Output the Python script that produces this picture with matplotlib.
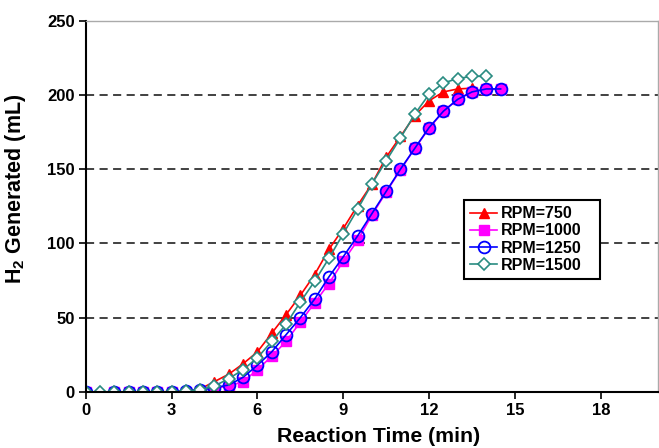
"""
H2 generation vs reaction time at different stirring speeds
"""
import matplotlib
matplotlib.use('Agg')
import matplotlib.pyplot as plt

# pylint: disable=invalid-name

plt.rcParams['font.family'] = ['Liberation Sans', 'DejaVu Sans']
plt.rcParams['font.weight'] = 'bold'
plt.rcParams['mathtext.fontset'] = 'custom'
plt.rcParams['mathtext.bf'] = 'Liberation Sans:bold'
plt.rcParams['mathtext.rm'] = 'Liberation Sans:bold'

time_750 = [0, 1, 1.5, 2, 2.5, 3, 3.5, 4, 4.5, 5, 5.5, 6, 6.5, 7, 7.5,
            8, 8.5, 9, 9.5, 10, 10.5, 11, 11.5, 12, 12.5, 13, 13.5]
h2_750 = [0, 0, 0, 0, 0, 0.3, 0.8, 2, 7, 12, 19, 27, 39.5, 52, 65,
          79, 96, 110, 125.5, 140, 158, 172, 186, 196, 202, 204, 204.5]

time_1000 = [0, 1, 1.5, 2, 2.5, 3, 3.5, 4, 4.5, 5, 5.5, 6, 6.5, 7, 7.5,
             8, 8.5, 9, 9.5, 10, 10.5, 11, 11.5, 12, 12.5, 13, 13.5, 14, 14.5]
h2_1000 = [0, 0, 0, 0, 0, 0, 0.3, 1, 2.5, 4, 7, 15, 24, 34, 47,
           60, 73, 88, 102, 119, 134.5, 149.5, 164, 177.5, 189, 197, 202, 204, 204]

time_1250 = time_1000
h2_1250 = [0, 0, 0, 0, 0, 0, 0.5, 1.5, 3, 4.7, 9.9, 18, 27, 38.5, 50,
           62.5, 77.5, 91, 105, 120, 135, 150, 164, 178, 189, 197, 202, 204, 204]

time_1500 = [0, 0.5, 1, 1.5, 2, 2.5, 3, 3.5, 4, 4.5, 5, 5.5, 6, 6.5, 7,
             7.5, 8, 8.5, 9, 9.5, 10, 10.5, 11, 11.5, 12, 12.5, 13, 13.5, 14]
h2_1500 = [0, 0, 0, 0, 0, 0, 0, 0.5, 1.5, 4, 9, 15, 23, 34, 45.5,
           60.5, 74.5, 90, 106.5, 123, 140, 155.6, 171, 187, 200.4, 208, 211, 212.5, 212.5]

labels = ['RPM=750', 'RPM=1000', 'RPM=1250', 'RPM=1500']

fig = plt.figure(figsize=(6.59, 4.48), dpi=100)
ax = fig.add_axes([0.130, 0.125, 0.8685, 0.829])

ax.plot(time_750, h2_750, color='#ff0000', marker='^', ms=7.5, lw=1.2,
        label=labels[0])
ax.plot(time_1000, h2_1000, color='#ff00ff', marker='s', ms=7, lw=1.2,
        label=labels[1])
ax.plot(time_1250, h2_1250, color='#0000ff', marker='o', ms=8.5, lw=1.2,
        mfc='none', mew=1.3, label=labels[2])
ax.plot(time_1500, h2_1500, color='#2a8c82', marker='D', ms=6, lw=1.2,
        mfc='white', mew=1.2, label=labels[3])

# dashed horizontal grid
for yy in [50, 100, 150, 200]:
    ax.axhline(yy, color='#333333', lw=1.3, ls=(0, (4.5, 3)), zorder=0)

ax.set_xlim(0, 20)
ax.set_ylim(0, 250)
ax.set_xticks([0, 3, 6, 9, 12, 15, 18])
ax.set_yticks([0, 50, 100, 150, 200, 250])
ax.tick_params(direction='out', length=5, width=1.2, labelsize=12, pad=3)
for lab in ax.get_xticklabels() + ax.get_yticklabels():
    lab.set_fontweight('bold')

for side in ['left', 'bottom']:
    ax.spines[side].set_linewidth(1.5)
    ax.spines[side].set_color('black')
for side in ['top', 'right']:
    ax.spines[side].set_linewidth(1.0)
    ax.spines[side].set_color('#aaaaaa')

ax.set_xlabel('Reaction Time (min)', fontsize=15.3, fontweight='bold')
ax.xaxis.set_label_coords(0.512, -0.094)
ax.set_ylabel(r'H$_\mathbf{2}$ Generated (mL)', fontsize=15.5,
              fontweight='bold')
ax.yaxis.set_label_coords(-0.101, 0.547)

leg = ax.legend(loc='upper left', bbox_to_anchor=(0.661, 0.517, 0.2376, 0),
                mode='expand', borderaxespad=0, fancybox=False,
                edgecolor='black', framealpha=1, fontsize=11.5,
                handlelength=1.67, labelspacing=0.13, borderpad=0.4,
                handletextpad=0.25)
leg.get_frame().set_linewidth(1.5)

fig.savefig('out.png', dpi=100)
